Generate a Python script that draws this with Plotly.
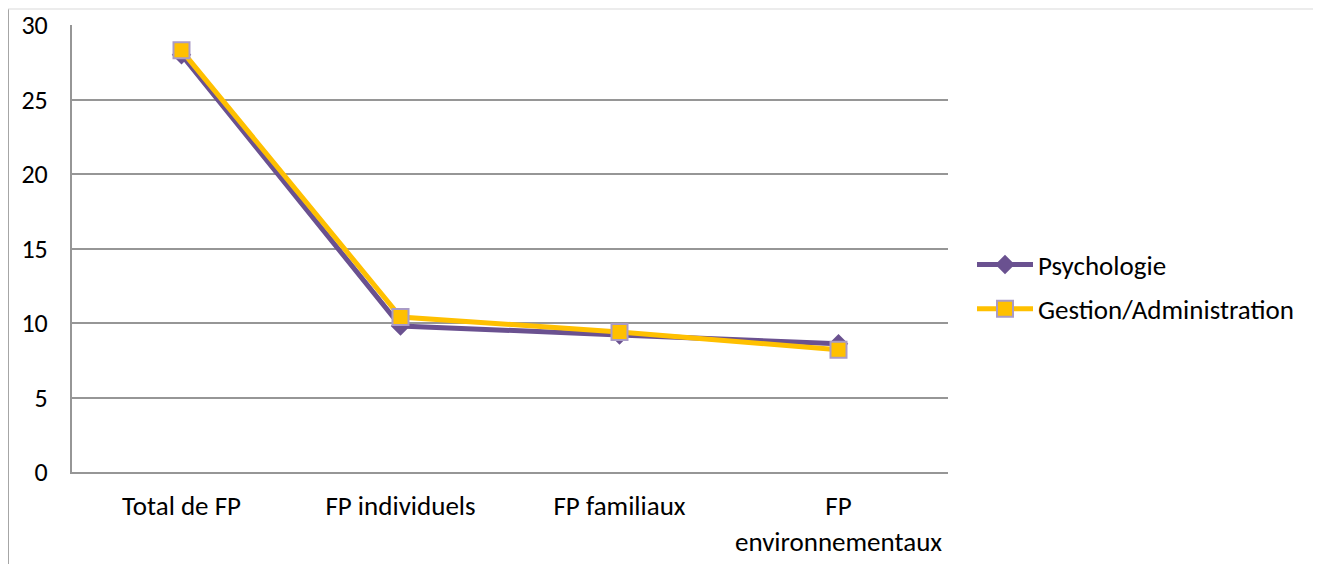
import plotly.graph_objects as go

categories = ["Total de FP", "FP individuels", "FP familiaux", "FP<br>environnementaux"]
psychologie = [28.0, 9.8, 9.2, 8.6]
gestion = [28.3, 10.4, 9.4, 8.2]
y_ticks = [0, 5, 10, 15, 20, 25, 30]

FONT = "Carlito, Calibri, Lato, sans-serif"

fig = go.Figure()
fig.add_trace(go.Scatter(
    x=categories, y=psychologie, name="Psychologie", mode="lines+markers",
    legendgroup="a",
    line=dict(color="#6A5190", width=5),
    marker=dict(symbol="diamond", size=15, color="#6A5190"),
))
fig.add_trace(go.Scatter(
    x=categories, y=gestion, name="Gestion/Administration", mode="lines+markers",
    legendgroup="b",
    line=dict(color="#FFC000", width=5),
    marker=dict(symbol="square", size=16, color="#FFC000",
                line=dict(color="#A99BC6", width=2)),
))

# body has an 8px margin in the rendered page
OFF = 8
W, H = 1321 - OFF, 564 - OFF
L, T = 72 - OFF, 25 - OFF
pw, ph = 876, 447
R, B = W - L - pw, H - T - ph

def px(x):
    return (x - OFF - L) / pw
def py(y):
    return (T + ph - (y - OFF)) / ph

fig.add_shape(type="line", xref="paper", yref="paper",
              x0=px(8), x1=px(8), y0=py(570), y1=py(9),
              line=dict(color="#A6A6A6", width=2))
fig.add_shape(type="line", xref="paper", yref="paper",
              x0=px(8), x1=px(1330), y0=py(9), y1=py(9),
              line=dict(color="#D9D9D9", width=1))

fig.update_layout(
    width=W, height=H,
    margin=dict(l=L, r=R, t=T, b=B, autoexpand=False),
    paper_bgcolor="white", plot_bgcolor="white",
    font=dict(family=FONT, size=24, color="#000000"),
    showlegend=True,
    legend=dict(x=px(972), y=py(287), xanchor="left", yanchor="middle",
                font=dict(family=FONT, size=27), tracegroupgap=6,
                itemwidth=56, bgcolor="rgba(0,0,0,0)"),
)
fig.update_xaxes(
    type="category", range=[-0.5, 3.5], showgrid=False, automargin=False,
    showline=True, linecolor="#969696", linewidth=2,
    ticks="", tickfont=dict(family=FONT, size=27), ticklabelstandoff=9,
    zeroline=False,
)
fig.update_yaxes(
    range=[0, 30], tickvals=y_ticks, showgrid=True, gridcolor="#969696", gridwidth=2,
    showline=True, linecolor="#969696", linewidth=2, automargin=False,
    ticks="", ticklabelstandoff=17, tickfont=dict(family=FONT, size=26),
    zeroline=False,
)

fig.write_html("out.html")
